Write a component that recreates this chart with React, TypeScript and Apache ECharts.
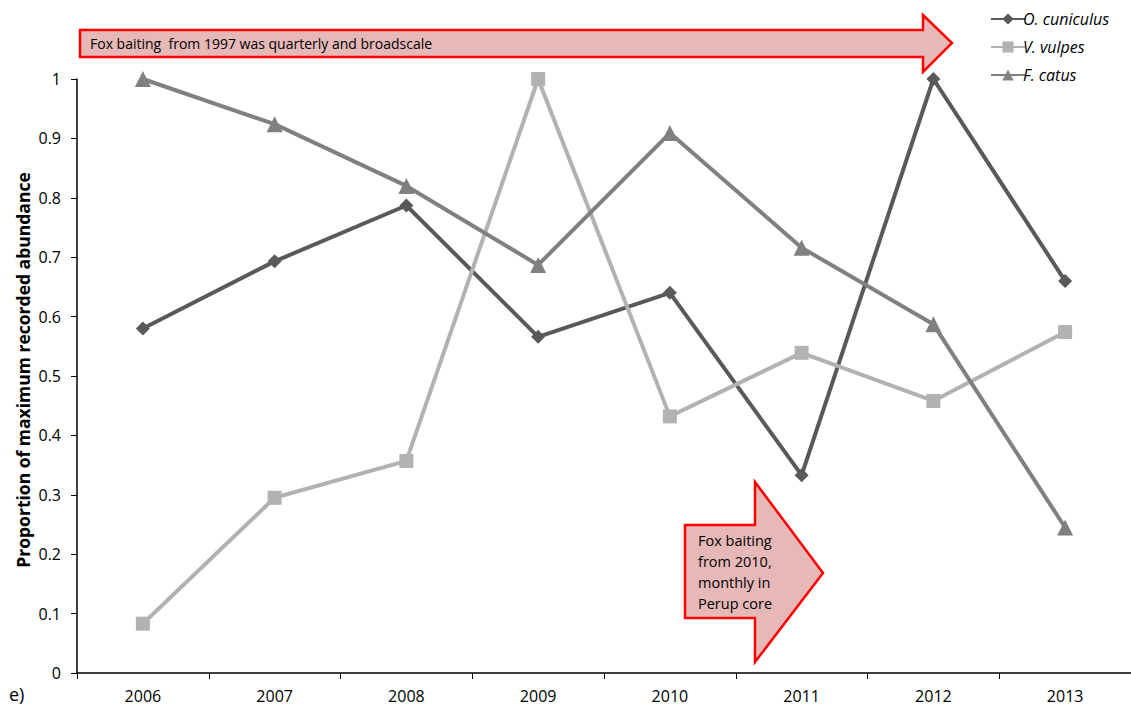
import React, { useEffect, useRef } from "react";
import * as echarts from "echarts";

const years = ["2006", "2007", "2008", "2009", "2010", "2011", "2012", "2013"];
const cuniculus = [0.58, 0.693, 0.787, 0.566, 0.64, 0.333, 1.0, 0.66];
const vulpes = [0.083, 0.295, 0.357, 1.0, 0.432, 0.539, 0.458, 0.574];
const catus = [1.0, 0.924, 0.82, 0.687, 0.909, 0.716, 0.587, 0.245];
const seriesNames = ["O. cuniculus", "V. vulpes", "F. catus"];
const yTitle = "Proportion of maximum recorded abundance";
const bigArrowText = "Fox baiting  from 1997 was quarterly and broadscale";
const smallArrowText = ["Fox baiting", "from 2010,", "monthly in", "Perup core"];

const FONT = "'Open Sans', 'Liberation Sans', sans-serif";
const ARROW_FILL = "#e6b8b7";
const ARROW_STROKE = "#ff0000";

export default function App() {
  const ref = useRef<HTMLDivElement>(null);

  useEffect(() => {
    if (!ref.current) return;
    const chart = echarts.init(ref.current, undefined, { renderer: "svg" });

    const mkSeries = (name: string, data: number[], color: string, symbol: string, size: number) => ({
      name,
      type: "line",
      data,
      symbol,
      symbolSize: size,
      lineStyle: { color, width: 4 },
      itemStyle: { color },
      z: 3,
    });

    chart.setOption({
      animation: false,
      textStyle: { fontFamily: FONT },
      grid: { left: 77, right: 0, top: 79, bottom: 37, containLabel: false },
      legend: {
        orient: "vertical",
        left: 985,
        top: 6,
        itemWidth: 34,
        itemHeight: 14,
        itemGap: 12,
        data: seriesNames,
        textStyle: { fontStyle: "italic", fontSize: 16, color: "#000", fontFamily: FONT, padding: [0, 0, 0, -7] },
      },
      xAxis: {
        type: "category",
        data: years,
        boundaryGap: true,
        axisLine: { lineStyle: { color: "#000", width: 1.5 } },
        axisTick: { show: true, length: 6, lineStyle: { color: "#000" } },
        axisLabel: { color: "#000", fontSize: 16, margin: 15 },
      },
      yAxis: {
        type: "value",
        min: 0,
        max: 1,
        interval: 0.1,
        splitLine: { show: false },
        axisLine: { show: true, lineStyle: { color: "#000", width: 1.5 } },
        axisTick: { show: true, length: 6, lineStyle: { color: "#000" } },
        axisLabel: {
          color: "#000",
          fontSize: 16,
          margin: 16,
          formatter: (v: number) => String(Math.round(v * 10) / 10),
        },
      },
      series: [
        mkSeries(seriesNames[0], cuniculus, "#595959", "diamond", 14),
        mkSeries(seriesNames[1], vulpes, "#b2b2b2", "rect", 14),
        mkSeries(seriesNames[2], catus, "#808080", "triangle", 16),
      ],
      graphic: [
        {
          type: "text",
          x: 23,
          y: 370,
          rotation: Math.PI / 2,
          style: {
            text: yTitle,
            fontSize: 17.5,
            fontWeight: "bold",
            fontFamily: FONT,
            fill: "#000",
            align: "center",
            verticalAlign: "middle",
          },
        },
        {
          type: "text",
          x: 9,
          y: 694,
          style: { text: "e)", fontSize: 18, fontFamily: FONT, fill: "#000", verticalAlign: "middle" },
        },
        {
          type: "polygon",
          shape: {
            points: [
              [80, 30], [923, 30], [923, 15], [952, 43], [923, 72], [923, 57], [80, 57],
            ],
          },
          style: { fill: ARROW_FILL, stroke: ARROW_STROKE, lineWidth: 2.5 },
          z: 10,
        },
        {
          type: "text",
          x: 90,
          y: 43,
          z: 11,
          style: { text: bigArrowText, fontSize: 14, fontFamily: FONT, fill: "#000", verticalAlign: "middle" },
        },
        {
          type: "polygon",
          shape: {
            points: [
              [685, 525], [755, 525], [755, 482], [823, 573], [755, 662], [755, 618], [685, 618],
            ],
          },
          style: { fill: ARROW_FILL, stroke: ARROW_STROKE, lineWidth: 2.5 },
          z: 10,
        },
        {
          type: "text",
          x: 698,
          y: 530,
          z: 11,
          style: {
            text: smallArrowText.join("\n"),
            fontSize: 14.5,
            lineHeight: 21,
            fontFamily: FONT,
            fill: "#000",
            verticalAlign: "top",
          },
        },
      ],
    });

    return () => chart.dispose();
  }, []);

  return <div ref={ref} style={{ width: 1131, height: 710, position: "absolute", left: 0, top: 0, background: "#fff" }} />;
}
